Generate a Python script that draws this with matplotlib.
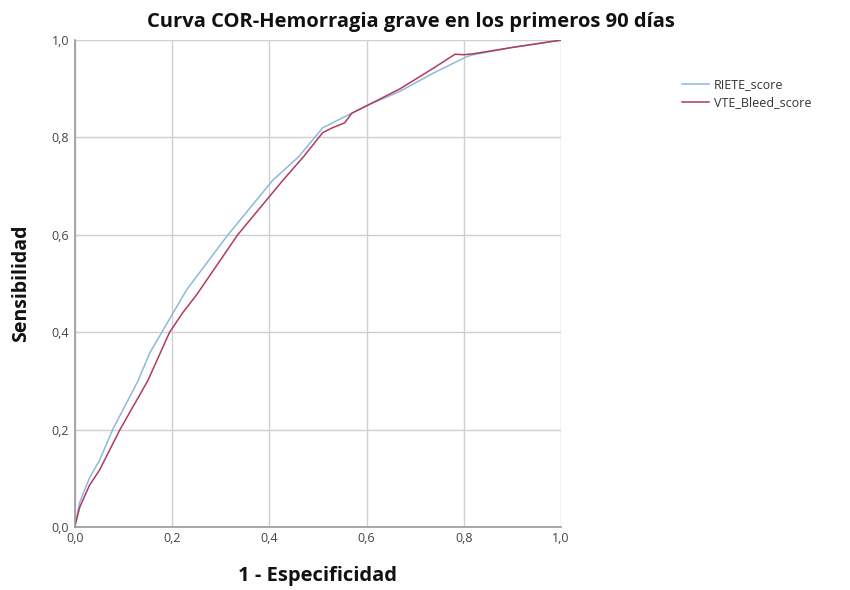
import matplotlib
matplotlib.use("Agg")
import matplotlib.pyplot as plt
from matplotlib.ticker import FuncFormatter

plt.rcParams['font.family'] = ['Open Sans', 'DejaVu Sans']

riete_x = [0.0, 0.01, 0.03, 0.051, 0.078, 0.13, 0.154, 0.179, 0.23, 0.315, 0.407, 0.46, 0.51, 0.55, 0.60, 0.669, 0.737, 0.806, 0.82, 0.9, 1.0]
riete_y = [0.0, 0.05, 0.10, 0.137, 0.20, 0.30, 0.357, 0.40, 0.487, 0.60, 0.712, 0.76, 0.82, 0.84, 0.865, 0.895, 0.932, 0.966, 0.97, 0.985, 1.0]

vte_x = [0.0, 0.01, 0.03, 0.051, 0.093, 0.15, 0.195, 0.222, 0.25, 0.335, 0.428, 0.47, 0.51, 0.53, 0.555, 0.57, 0.60, 0.669, 0.737, 0.782, 0.80, 0.82, 0.9, 1.0]
vte_y = [0.0, 0.04, 0.085, 0.117, 0.20, 0.30, 0.40, 0.44, 0.476, 0.60, 0.712, 0.76, 0.81, 0.82, 0.83, 0.85, 0.865, 0.90, 0.942, 0.971, 0.97, 0.972, 0.985, 1.0]

ticks = [0.0, 0.2, 0.4, 0.6, 0.8, 1.0]

fig = plt.figure(figsize=(8.5, 5.9), dpi=100)
ax = fig.add_axes([0.088, 0.107, 0.572, 0.825])

ax.plot(riete_x, riete_y, color='#8fb8dc', lw=1.1, label='RIETE_score')
ax.plot(vte_x, vte_y, color='#b23a5e', lw=1.1, label='VTE_Bleed_score')

ax.set_xlim(0, 1)
ax.set_ylim(0, 1)
ax.set_xticks(ticks)
ax.set_yticks(ticks)
fmt = FuncFormatter(lambda v, p: f"{v:.1f}".replace('.', ','))
ax.xaxis.set_major_formatter(fmt)
ax.yaxis.set_major_formatter(fmt)
ax.tick_params(length=0, labelsize=9, colors='#444444', pad=4)
ax.grid(True, color='#cfcfcf', lw=1.0)
ax.set_axisbelow(True)
for s in ['top', 'right']:
    ax.spines[s].set_visible(False)
for s in ['left', 'bottom']:
    ax.spines[s].set_color('#999999')
    ax.spines[s].set_linewidth(1.2)

fig.text(411 / 850, 1 - 22 / 590, 'Curva COR-Hemorragia grave en los primeros 90 días',
         fontsize=14.5, fontweight='bold', ha='center', va='center', color='#111111')
ax.set_xlabel('1 - Especificidad', fontsize=14.5, fontweight='bold', labelpad=15, color='#111111')
ax.set_ylabel('Sensibilidad', fontsize=14, fontweight='bold', labelpad=15, color='#111111')

leg = ax.legend(loc='upper left', bbox_to_anchor=(1.225, 0.945), frameon=False, fontsize=9,
                handlelength=2.2, handletextpad=0.4, labelspacing=0.4)
for t in leg.get_texts():
    t.set_color('#333333')

fig.savefig('out.png', dpi=100, facecolor='white')
